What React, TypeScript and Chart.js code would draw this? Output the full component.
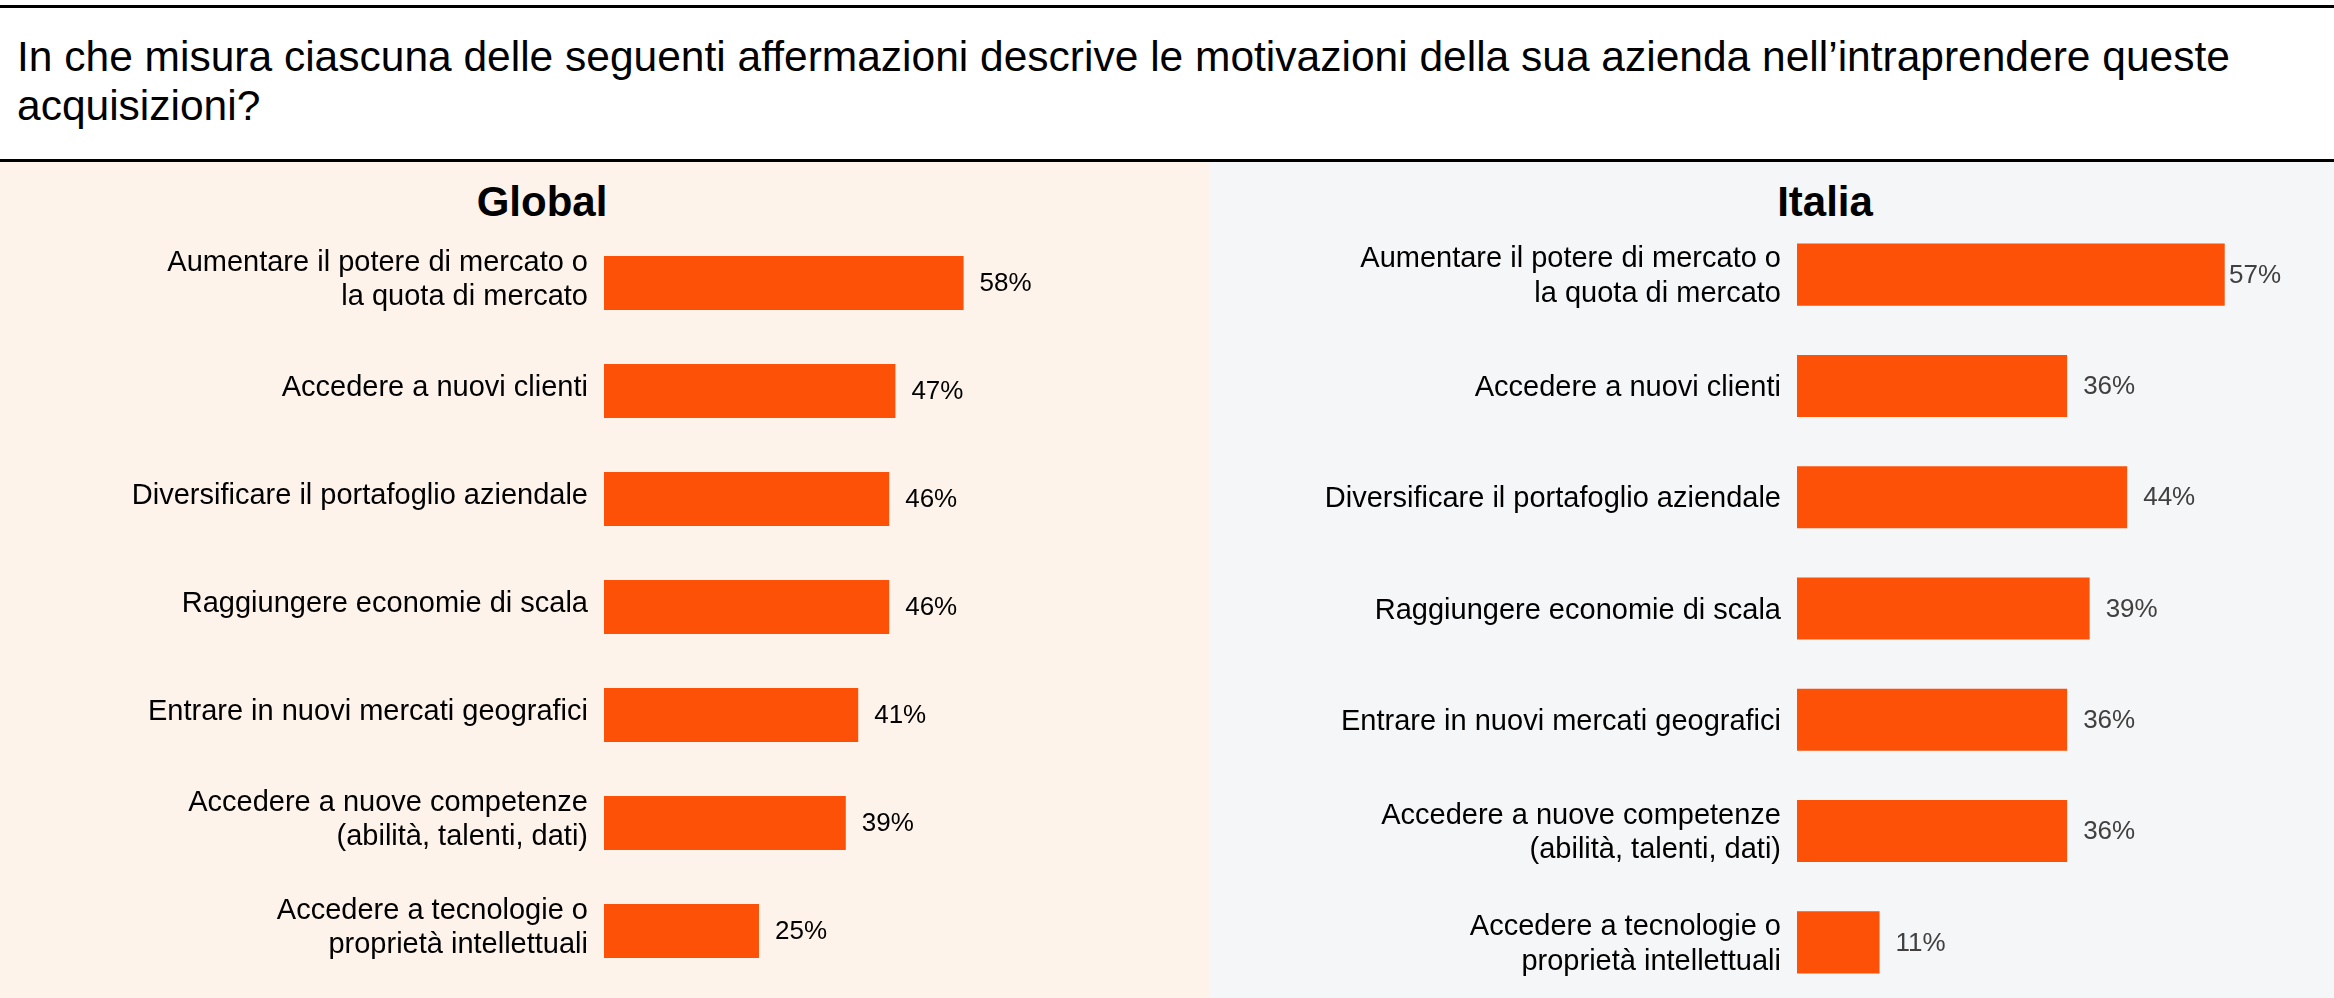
import React, { useEffect, useRef } from "react";
import { Chart, registerables } from "chart.js";

Chart.register(...registerables);

const FONT = '"Liberation Sans", Arial, Helvetica, sans-serif';

// Question shown above both panels (second line forced onto its own row)
const questionLines = [
  "In che misura ciascuna delle seguenti affermazioni descrive le motivazioni della sua azienda nell’intraprendere queste",
  "acquisizioni?",
];

const panelTitles = ["Global", "Italia"];

const categories: (string | string[])[] = [
  ["Aumentare il potere di mercato o", "la quota di mercato"],
  "Accedere a nuovi clienti",
  "Diversificare il portafoglio aziendale",
  "Raggiungere economie di scala",
  "Entrare in nuovi mercati geografici",
  ["Accedere a nuove competenze", "(abilità, talenti, dati)"],
  ["Accedere a tecnologie o", "proprietà intellettuali"],
];

const globalValues = [58, 47, 46, 46, 41, 39, 25];
const italiaValues = [57, 36, 44, 39, 36, 36, 11];

const BAR_COLOR = "#FD5108";

// Writes "NN%" just past the end of each bar, kept inside the plot area
const valueLabels = {
  id: "valueLabels",
  afterDatasetsDraw(chart: any, _args: any, opts: any) {
    const { ctx, chartArea } = chart;
    const meta = chart.getDatasetMeta(0);
    const data = chart.data.datasets[0].data as number[];
    ctx.save();
    ctx.font = `${opts.size}px ${FONT}`;
    ctx.fillStyle = opts.color;
    ctx.textBaseline = "middle";
    ctx.textAlign = "left";
    meta.data.forEach((bar: any, i: number) => {
      const text = `${data[i]}%`;
      const w = ctx.measureText(text).width;
      let x = bar.x + opts.gap;
      if (x + w > chartArea.right) x = chartArea.right - w;
      ctx.fillText(text, x, bar.y + 1);
    });
    ctx.restore();
  },
};

type PanelCfg = {
  values: number[];
  axisWidth: number;
  padTop: number;
  padBottom: number;
  padRight: number;
  xMax: number;
  barPct: number;
  valueColor: string;
  labelOffset: number;
};

function buildChart(canvas: HTMLCanvasElement, cfg: PanelCfg) {
  return new Chart(canvas, {
    type: "bar",
    data: {
      labels: categories,
      datasets: [
        {
          data: cfg.values,
          backgroundColor: BAR_COLOR,
          borderWidth: 0,
          barPercentage: cfg.barPct,
          categoryPercentage: 1,
        },
      ],
    },
    options: {
      indexAxis: "y",
      responsive: false,
      animation: false,
      events: [],
      layout: {
        padding: { top: cfg.padTop, bottom: cfg.padBottom, left: 0, right: cfg.padRight },
      },
      plugins: {
        legend: { display: false },
        tooltip: { enabled: false },
        title: { display: false },
        valueLabels: { size: 26, color: cfg.valueColor, gap: 16 },
      } as any,
      scales: {
        x: {
          display: false,
          min: 0,
          max: cfg.xMax,
        },
        y: {
          type: "category",
          grid: { display: false, drawTicks: false },
          border: { display: false },
          ticks: {
            autoSkip: false,
            color: "#000000",
            padding: 16,
            labelOffset: cfg.labelOffset,
            font: { family: FONT, size: 29, lineHeight: 1.2 },
          },
          afterFit(scale: any) {
            // fixed gutter for the category labels; the plot keeps the full height
            scale.width = cfg.axisWidth;
            scale.paddingTop = 0;
            scale.paddingBottom = 0;
          },
        },
      },
    },
    plugins: [valueLabels],
  });
}

export default function App() {
  const globalRef = useRef<HTMLCanvasElement>(null);
  const italiaRef = useRef<HTMLCanvasElement>(null);

  useEffect(() => {
    const charts: Chart[] = [];
    if (globalRef.current) {
      charts.push(
        buildChart(globalRef.current, {
          values: globalValues,
          axisWidth: 604,
          padTop: 67,
          padBottom: 13,
          padRight: 48,
          xMax: 90,
          barPct: 0.5,
          valueColor: "#000000",
          labelOffset: -3,
        })
      );
    }
    if (italiaRef.current) {
      charts.push(
        buildChart(italiaRef.current, {
          values: italiaValues,
          axisWidth: 587,
          padTop: 57,
          padBottom: 0,
          padRight: 53,
          xMax: 64.5,
          barPct: 0.558,
          valueColor: "#404040",
          labelOffset: 2,
        })
      );
    }
    return () => charts.forEach((c) => c.destroy());
  }, []);

  const rule: React.CSSProperties = {
    position: "absolute",
    left: 0,
    width: 2334,
    height: 3,
    background: "#000000",
  };

  const panelTitle: React.CSSProperties = {
    position: "absolute",
    top: 181,
    width: 240,
    textAlign: "center",
    fontFamily: FONT,
    fontWeight: 700,
    fontSize: 42,
    lineHeight: "42px",
    color: "#000000",
    whiteSpace: "nowrap",
  };

  return (
    <div
      style={{
        position: "absolute",
        left: 0,
        top: 0,
        width: 2334,
        height: 998,
        background: "#ffffff",
        overflow: "hidden",
        fontFamily: FONT,
      }}
    >
      <div style={{ ...rule, top: 5 }} />
      <div
        style={{
          position: "absolute",
          left: 17,
          top: 32,
          fontSize: 42.5,
          lineHeight: "49px",
          color: "#000000",
          whiteSpace: "nowrap",
        }}
      >
        {questionLines.map((line, i) => (
          <div key={i}>{line}</div>
        ))}
      </div>
      <div style={{ ...rule, top: 159 }} />

      <div
        style={{ position: "absolute", left: 0, top: 162, width: 1210, height: 836, background: "#FDF3EA" }}
      />
      <div
        style={{ position: "absolute", left: 1210, top: 162, width: 1124, height: 836, background: "#F5F6F8" }}
      />

      <div style={{ ...panelTitle, left: 542 - 120 }}>{panelTitles[0]}</div>
      <div style={{ ...panelTitle, left: 1825 - 120 }}>{panelTitles[1]}</div>

      <canvas
        ref={globalRef}
        width={1210}
        height={836}
        style={{ position: "absolute", left: 0, top: 162, width: 1210, height: 836 }}
      />
      <canvas
        ref={italiaRef}
        width={1124}
        height={836}
        style={{ position: "absolute", left: 1210, top: 162, width: 1124, height: 836 }}
      />
    </div>
  );
}
